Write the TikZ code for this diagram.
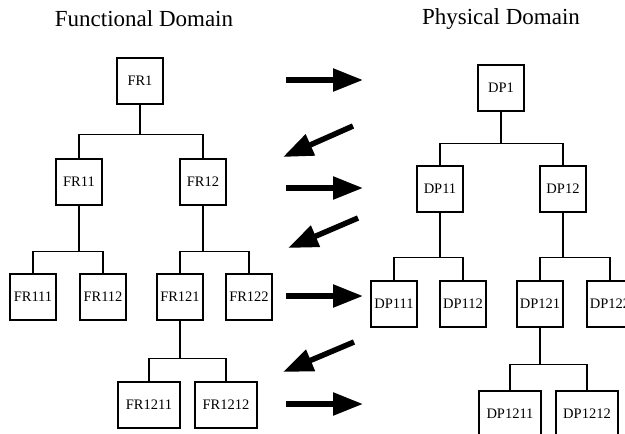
\documentclass[tikz,border=0pt]{standalone}
\usepackage{fontspec}
\setmainfont{Liberation Serif}
\usepackage{tikz}
\usetikzlibrary{arrows.meta}

\begin{document}
\begin{tikzpicture}[
    x=1pt, y=-1pt,
    % Styles
    frbox/.style={rectangle, draw, line width=1.4pt, minimum width=46pt, minimum height=46pt, inner sep=1pt, font=\fontsize{14.5}{16}\selectfont},
    widebox/.style={frbox, minimum width=62pt},
    domaintitle/.style={font=\fontsize{23}{26}\selectfont},
    tree/.style={line width=1.1pt},
    bigarrow/.style={line width=5.5pt, -{Triangle[length=30pt, width=22pt]}}
]
    \path[use as bounding box, clip] (0,0) rectangle (625,434);

    % --- Left Side: Functional Domain ---
    \node[domaintitle] (fd) at (144,19) {Functional Domain};

    \node[frbox] (fr1) at (140,81) {FR1};
    \node[frbox] (fr11) at (79,182) {FR11};
    \node[frbox] (fr12) at (203,182) {FR12};
    \node[frbox] (fr111) at (33,297) {FR111};
    \node[frbox] (fr112) at (103,297) {FR112};
    \node[frbox] (fr121) at (180,297) {FR121};
    \node[frbox] (fr122) at (249,297) {FR122};
    \node[widebox] (fr1211) at (149,405) {FR1211};
    \node[widebox] (fr1212) at (226,405) {FR1212};

    \draw[tree] (fr1.south) -- ++(0,30) -| (fr11.north);
    \draw[tree] (fr1.south) ++(0,30) -| (fr12.north);
    \draw[tree] (fr11.south) -- ++(0,46) -| (fr111.north);
    \draw[tree] (fr11.south) ++(0,46) -| (fr112.north);
    \draw[tree] (fr12.south) -- ++(0,46) -| (fr121.north);
    \draw[tree] (fr12.south) ++(0,46) -| (fr122.north);
    \draw[tree] (fr121.south) -- ++(0,38) -| (fr1211.north);
    \draw[tree] (fr121.south) ++(0,38) -| (fr1212.north);

    % --- Right Side: Physical Domain ---
    \node[domaintitle] (pd) at (501,19) {Physical Domain};

    \node[frbox] (dp1) at (501,88) {DP1};
    \node[frbox] (dp11) at (440,189) {DP11};
    \node[frbox] (dp12) at (563,189) {DP12};
    \node[frbox] (dp111) at (394,304) {DP111};
    \node[frbox] (dp112) at (463,304) {DP112};
    \node[frbox] (dp121) at (540,304) {DP121};
    \node[frbox] (dp122) at (610,304) {DP122};
    \node[widebox] (dp1211) at (510,414) {DP1211};
    \node[widebox] (dp1212) at (587,414) {DP1212};

    \draw[tree] (dp1.south) -- ++(0,32) -| (dp11.north);
    \draw[tree] (dp1.south) ++(0,32) -| (dp12.north);
    \draw[tree] (dp11.south) -- ++(0,45) -| (dp111.north);
    \draw[tree] (dp11.south) ++(0,45) -| (dp112.north);
    \draw[tree] (dp12.south) -- ++(0,45) -| (dp121.north);
    \draw[tree] (dp12.south) ++(0,45) -| (dp122.north);
    \draw[tree] (dp121.south) -- ++(0,37) -| (dp1211.north);
    \draw[tree] (dp121.south) ++(0,37) -| (dp1212.north);

    % --- Zigzag between the domains ---
    \foreach \y in {80,188,296,404}
        \draw[bigarrow] (286,\y) -- (363,\y);
    \draw[bigarrow] (353,126) -- (283,157);
    \draw[bigarrow] (358,218) -- (288,248);
    \draw[bigarrow] (354,342) -- (283,372);

\end{tikzpicture}
\end{document}
